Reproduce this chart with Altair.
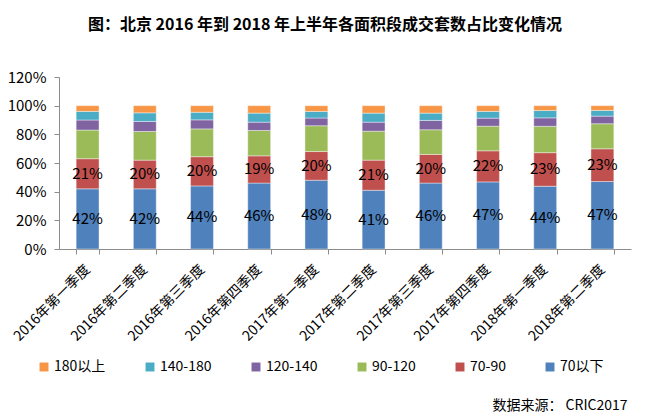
import altair as alt
import pandas as pd

quarters = ["2016年第一季度", "2016年第二季度", "2016年第三季度", "2016年第四季度",
            "2017年第一季度", "2017年第二季度", "2017年第三季度", "2017年第四季度",
            "2018年第一季度", "2018年第二季度"]
segments = ["70以下", "70-90", "90-120", "120-140", "140-180", "180以上"]
colors = ["#4F81BD", "#C0504D", "#9BBB59", "#8064A2", "#4BACC6", "#F79646"]

s_70_below = [42, 42, 44, 46, 48, 41, 46, 46.8, 43.8, 47.1]
s_70_90 = [21, 20, 20.4, 19, 20, 21, 20, 21.7, 23.4, 22.8]
s_90_120 = [20, 20, 19.4, 17.7, 18, 20.2, 17.2, 17.2, 18.4, 17.5]
s_120_140 = [7, 7, 6.3, 5.8, 5.4, 6.3, 6.5, 5.6, 5.9, 5.3]
s_140_180 = [6, 6, 5.3, 6.3, 4.6, 6.3, 5.1, 4.7, 5.1, 4.0]
s_180_above = [4, 5, 4.6, 5.2, 4.0, 5.2, 5.2, 4.0, 3.4, 3.3]
y_ticks = [0, 20, 40, 60, 80, 100, 120]

series = [s_70_below, s_70_90, s_90_120, s_120_140, s_140_180, s_180_above]
rows = []
for si, (seg, vals) in enumerate(zip(segments, series)):
    for q, v in zip(quarters, vals):
        rows.append({"quarter": q, "segment": seg, "ord": si, "value": v})
df = pd.DataFrame(rows)

FONT = "Noto Sans CJK SC"
AXIS_COLOR = "#8c8c8c"

base = alt.Chart(df).transform_stack(
    stack="value", groupby=["quarter"], as_=["y0", "y1"],
    sort=[alt.SortField("ord", order="ascending")]
)

x_axis = alt.Axis(title="数据来源： CRIC2017", labelAngle=-45, labelAlign="right",
                  labelBaseline="middle", labelFontSize=14, labelFont=FONT,
                  labelColor="#000000", tickBand="extent", tickSize=5,
                  tickColor=AXIS_COLOR, domainColor=AXIS_COLOR, labelPadding=13,
                  labelOverlap=False,
                  titleFont=FONT, titleFontSize=14, titleFontWeight="normal",
                  titleColor="#000000", titleAnchor="end", titleAlign="right",
                  titleBaseline="middle", titleX=568, titleY=156)
y_axis = alt.Axis(title=None, values=y_ticks,
                  labelExpr="datum.value + '%'", labelFontSize=15, labelFont=FONT,
                  labelColor="#000000", grid=False, tickSize=5, labelOverlap=False,
                  labelFlush=False, labelBound=False,
                  tickColor=AXIS_COLOR, domainColor=AXIS_COLOR, labelPadding=8)
x_scale = alt.Scale(paddingInner=0.6, paddingOuter=0.3)
y_scale = alt.Scale(domain=[0, 120])

bars = base.mark_bar(stroke="#ffffff", strokeWidth=0.4).encode(
    x=alt.X("quarter:N", sort=quarters, scale=x_scale, axis=x_axis),
    y=alt.Y("y0:Q", scale=y_scale, axis=y_axis),
    y2="y1:Q",
    color=alt.Color("segment:N",
                    scale=alt.Scale(domain=segments[::-1], range=colors[::-1]),
                    legend=alt.Legend(title=None, orient="none", direction="horizontal",
                                      legendX=-22, legendY=283, symbolType="square",
                                      symbolSize=80, symbolStrokeWidth=0,
                                      labelFontSize=14, labelFont=FONT, labelColor="#000000",
                                      columnPadding=37, labelOffset=3)),
)

labels = base.transform_filter(
    alt.FieldOneOfPredicate(field="segment", oneOf=["70以下", "70-90"])
).transform_calculate(
    mid="(datum.y0 + datum.y1) / 2",
    lbl="format(datum.value, '.0f') + '%'"
).mark_text(fontSize=15, font=FONT, color="#000000").encode(
    x=alt.X("quarter:N", sort=quarters, scale=x_scale, axis=x_axis),
    y=alt.Y("mid:Q", scale=y_scale, axis=y_axis),
    text="lbl:N",
)

chart = alt.layer(bars, labels).properties(
    width=572, height=172,
    padding={"left": 51, "top": 69, "right": 11, "bottom": 170},
    autosize=alt.AutoSizeParams(type="none"),
    title=alt.TitleParams("图：北京 2016 年到 2018 年上半年各面积段成交套数占比变化情况",
                          font=FONT, fontSize=16, fontWeight="bold", color="#000000",
                          anchor="middle", dx=-20, offset=37),
).configure_view(stroke=None)

chart.save("out.html", embed_options={"renderer": "svg", "actions": False})
